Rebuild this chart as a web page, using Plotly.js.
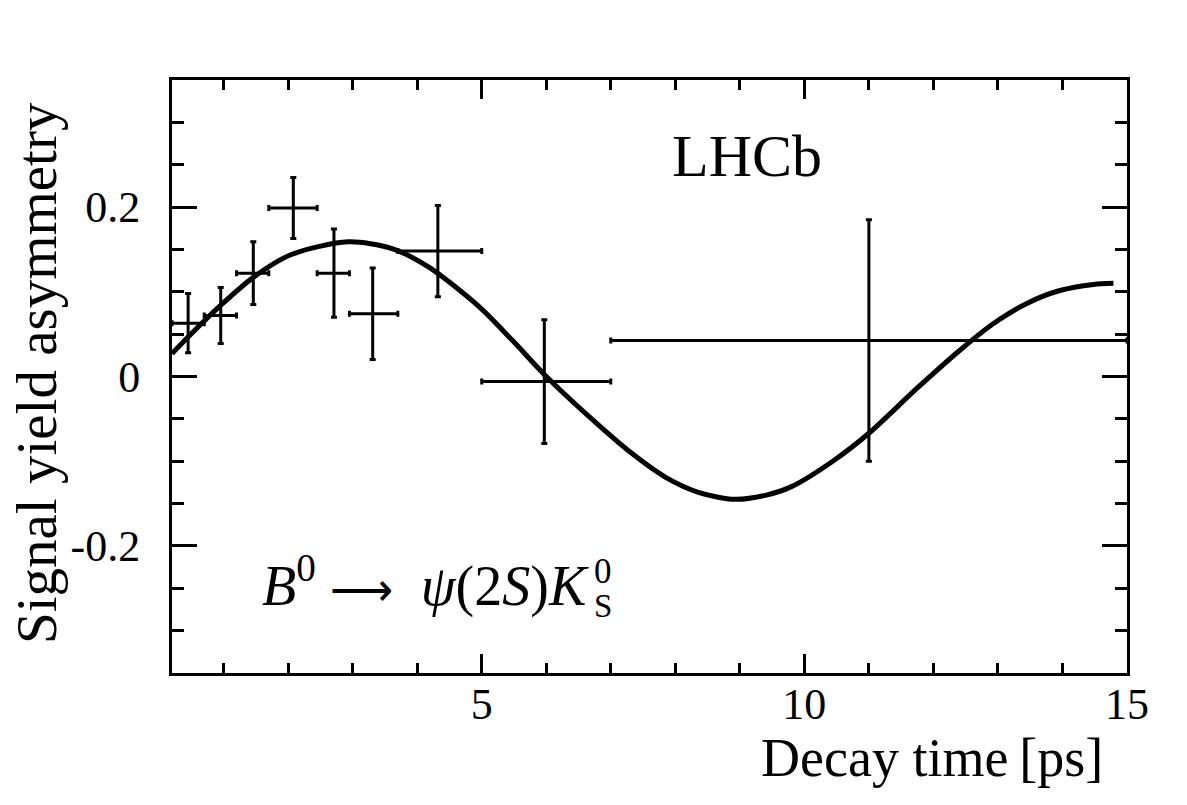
<!DOCTYPE html>
<html>
<head>
<meta charset="utf-8">
<script src="https://cdn.plot.ly/plotly-3.0.1.min.js"></script>
<style>html,body{margin:0;padding:0;background:#fff;}#chart{width:1187px;height:805px;}</style>
</head>
<body>
<div id="chart"></div>
<script>
// Data points (decay time, asymmetry)
const pointT   = [0.45, 0.955, 1.46, 2.08, 2.71, 3.31, 4.32, 5.97, 11.0];
const pointA   = [0.063, 0.072, 0.122, 0.199, 0.122, 0.074, 0.148, -0.006, 0.0425];
const pointErr = [0.035, 0.033, 0.037, 0.036, 0.052, 0.054, 0.054, 0.073, 0.1425];
const binLow   = [0.2, 0.7, 1.2, 1.7, 2.45, 2.95, 3.7, 5, 7];
const binHigh  = [0.7, 1.2, 1.7, 2.45, 2.95, 3.7, 5, 7, 15];

// Fit curve
const curveT = [0.20, 0.48, 0.94, 1.46, 2.05, 2.93, 3.61, 4.18, 4.95, 5.47, 6.04, 6.82, 7.33, 7.85, 8.37, 8.92, 9.41, 9.80, 10.44, 11.0, 11.73, 12.41, 12.92, 13.44, 13.96, 14.48, 14.79];
const curveA = [0.027, 0.049, 0.083, 0.117, 0.144, 0.159, 0.151, 0.129, 0.083, 0.043, -0.003, -0.058, -0.091, -0.119, -0.137, -0.145, -0.140, -0.130, -0.100, -0.067, -0.015, 0.031, 0.062, 0.086, 0.1015, 0.1086, 0.110];

// Tick labels
const xTickVals = [5, 10, 15];
const xTickText = ['5', '10', '15'];
const yTickVals = [-0.2, 0, 0.2];
const yTickText = ['-0.2', '0', '0.2'];

const FONT = 'Liberation Serif';

const errPlus  = binHigh.map((h, i) => h - pointT[i]);
const errMinus = binLow.map((l, i) => pointT[i] - l);

const traces = [
  {
    x: curveT, y: curveA, type: 'scatter', mode: 'lines',
    line: {color: 'black', width: 5, shape: 'spline', smoothing: 0.8},
    hoverinfo: 'skip'
  },
  {
    x: pointT, y: pointA, type: 'scatter', mode: 'markers',
    marker: {color: 'black', size: 2},
    error_y: {type: 'data', array: pointErr, symmetric: true, color: 'black', thickness: 3, width: 3},
    error_x: {type: 'data', array: errPlus, arrayminus: errMinus, symmetric: false, color: 'black', thickness: 3, width: 3}
  }
];

function px2x(px) { return (px - 172) / 955; }
function px2y(py) { return (673 - py) / 593; }

const layout = {
  width: 1187, height: 805,
  margin: {l: 172, r: 60, t: 80, b: 132},
  paper_bgcolor: 'white', plot_bgcolor: 'white',
  showlegend: false,
  font: {family: FONT, color: 'black'},
  xaxis: {
    range: [0.2, 15], tickmode: 'array', tickvals: xTickVals, ticktext: xTickText,
    ticks: 'inside', ticklen: 19, tickwidth: 3, tickcolor: 'black',
    minor: {dtick: 1, tick0: 0, ticks: 'inside', ticklen: 10, tickwidth: 3, tickcolor: 'black', showgrid: false},
    showline: true, linewidth: 3, linecolor: 'black', mirror: 'ticks',
    showgrid: false, zeroline: false,
    tickfont: {family: FONT, size: 44, color: 'black'},
    ticklabelstandoff: -10
  },
  yaxis: {
    range: [-0.35, 0.35], tickmode: 'array', tickvals: yTickVals, ticktext: yTickText,
    ticks: 'inside', ticklen: 25, tickwidth: 3, tickcolor: 'black',
    minor: {dtick: 0.05, tick0: 0, ticks: 'inside', ticklen: 12, tickwidth: 3, tickcolor: 'black', showgrid: false},
    showline: true, linewidth: 3, linecolor: 'black', mirror: 'ticks',
    showgrid: false, zeroline: false,
    tickfont: {family: FONT, size: 44, color: 'black'},
    ticklabelstandoff: 20
  },
  annotations: [
    {text: 'LHCb', xref: 'paper', yref: 'paper', x: px2x(747), y: px2y(156), xanchor: 'center', yanchor: 'middle',
     showarrow: false, font: {family: FONT, size: 60, color: 'black'}},
    {text: '<i>B</i><sup>0</sup> <span style="font-size:44px">\u27f6</span>\u2002<i>\u03c8</i>(2<i>S</i>)<i>K</i>', xref: 'paper', yref: 'paper',
     x: px2x(591), y: px2y(582), xanchor: 'right', yanchor: 'middle',
     showarrow: false, font: {family: FONT, size: 56, color: 'black'}},
    {text: '0', xref: 'paper', yref: 'paper', x: px2x(592), y: px2y(571), xanchor: 'left', yanchor: 'middle',
     showarrow: false, font: {family: FONT, size: 35, color: 'black'}},
    {text: 'S', xref: 'paper', yref: 'paper', x: px2x(592), y: px2y(606), xanchor: 'left', yanchor: 'middle',
     showarrow: false, font: {family: FONT, size: 33, color: 'black'}},
    {text: 'Decay time\u2009[ps]', xref: 'paper', yref: 'paper', x: px2x(1105), y: px2y(758), xanchor: 'right', yanchor: 'middle',
     showarrow: false, font: {family: FONT, size: 54, color: 'black'}},
    {text: 'Signal yield asymmetry', xref: 'paper', yref: 'paper', x: px2x(36), y: px2y(100), xanchor: 'center', yanchor: 'top',
     textangle: -90, showarrow: false, font: {family: FONT, size: 57, color: 'black'}}
  ]
};

Plotly.newPlot('chart', traces, layout, {staticPlot: true, displayModeBar: false});
</script>
</body>
</html>
